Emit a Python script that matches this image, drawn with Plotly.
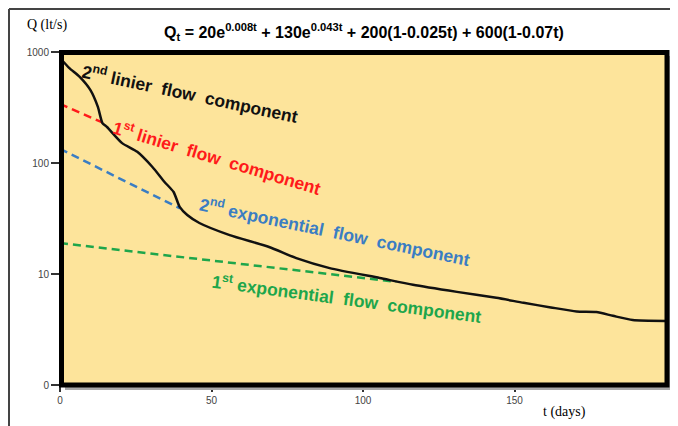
import plotly.graph_objects as go

# ---- data ----
t_total = [0, 3, 6.5, 10, 12.5, 14, 15.5, 20.5, 25.5, 30.5, 34.5, 37.5, 39.5, 42, 46, 56, 69, 78, 89,
           105.5, 116.5, 131, 144, 153, 162, 170.5, 177, 182.5, 189, 200]
q_total = [883, 720, 596, 455, 320, 229, 211, 151, 126, 92, 67.5, 54.8, 40.2, 34.0, 28.8, 22.4, 17.5, 13.9, 11.3,
           9.2, 8.0, 6.9, 6.1, 5.5, 5.0, 4.6, 4.55, 4.2, 3.85, 3.78]

t_lin1 = [0, 14]
q_lin1 = [340, 232]
t_exp2 = [0, 39.6]
q_exp2 = [134, 39]
t_exp1 = [0, 111]
q_exp1 = [19, 8.5]

y_tickvals = [1, 10, 100, 1000]
y_ticktext = ["0", "10", "100", "1000"]
x_tickvals = [0, 50, 100, 150]
x_ticktext = ["0", "50", "100", "150"]

# the page body adds an 8 px margin, so the figure is drawn at page offset (8, 8)
OFF = 8
W, H = 670, 418
L, R, T, B = 52, 12, 44, 41
PW, PH = W - L - R, H - T - B


def px(x):  # page pixel -> paper
    return (x - OFF - L) / PW


def py(y):
    return (H - B - (y - OFF)) / PH


fig = go.Figure()
fig.add_trace(go.Scatter(x=t_lin1, y=q_lin1, mode="lines",
                         line=dict(color="#FF1A1A", width=2.5, dash="8px,5px"), hoverinfo="skip"))
fig.add_trace(go.Scatter(x=t_exp2, y=q_exp2, mode="lines",
                         line=dict(color="#3A7DC3", width=2.5, dash="8px,5px"), hoverinfo="skip"))
fig.add_trace(go.Scatter(x=t_exp1, y=q_exp1, mode="lines",
                         line=dict(color="#1EA64B", width=2.5, dash="8px,5px"), hoverinfo="skip"))
fig.add_trace(go.Scatter(x=t_total, y=q_total, mode="lines", line_shape="spline",
                         line=dict(color="#111111", width=2.5, smoothing=0.6), hoverinfo="skip"))

tickfont = dict(family="Arial, Liberation Sans", size=10, color="#444444")
fig.update_layout(
    width=W, height=H,
    margin=dict(l=L, r=R, t=T, b=B, pad=0),
    paper_bgcolor="white",
    plot_bgcolor="rgb(253,228,155)",
    showlegend=False,
    xaxis=dict(range=[0, 200], tickvals=x_tickvals, ticktext=x_ticktext, ticks="outside",
               ticklen=6, tickwidth=1.5, tickcolor="#333333", showgrid=False, zeroline=False,
               showline=False, tickfont=tickfont),
    yaxis=dict(type="log", range=[0, 3], tickvals=y_tickvals, ticktext=y_ticktext, ticks="outside",
               ticklen=8, tickwidth=1.5, tickcolor="#333333", showgrid=False, zeroline=False,
               showline=False, tickfont=tickfont),
)

# shadow on the right and bottom of the frame
fig.add_shape(type="line", xref="paper", yref="paper", x0=px(670.5), x1=px(670.5), y0=py(56), y1=py(389),
              line=dict(color="#a8a8a8", width=3), layer="above")
fig.add_shape(type="line", xref="paper", yref="paper", x0=px(65), x1=px(672), y0=py(388.5), y1=py(388.5),
              line=dict(color="#a8a8a8", width=3), layer="above")
# plot frame
fig.add_shape(type="rect", xref="paper", yref="paper",
              x0=px(61.5), x1=px(667), y0=py(385), y1=py(52.5),
              line=dict(color="black", width=5), layer="above")

# outer frame lines
fig.add_shape(type="line", xref="paper", yref="paper", x0=px(9), x1=px(700), y0=py(9), y1=py(9),
              line=dict(color="#444444", width=2))
fig.add_shape(type="line", xref="paper", yref="paper", x0=px(9), x1=px(9), y0=py(9), y1=py(440),
              line=dict(color="#444444", width=2))

ann = []
ann.append(dict(text="<b>Q<sub>t</sub> = 20e<sup>0.008t</sup> + 130e<sup>0.043t</sup> + 200(1-0.025t) + 600(1-0.07t)</b>",
                x=px(364), y=py(32), xref="paper", yref="paper", showarrow=False,
                font=dict(family="Arial, Liberation Sans", size=16, color="black"), xanchor="center",
                yanchor="middle"))
ann.append(dict(text="Q (lt/s)", x=px(47), y=py(25), xref="paper", yref="paper", showarrow=False,
                font=dict(family="Liberation Serif, Times New Roman", size=14, color="black"),
                xanchor="center", yanchor="middle"))
ann.append(dict(text="t (days)", x=px(564), y=py(412), xref="paper", yref="paper", showarrow=False,
                font=dict(family="Liberation Serif, Times New Roman", size=14, color="black"),
                xanchor="center", yanchor="middle"))

labels = [
    ("2<sup>nd</sup> linier  flow  component", 190, 93, 12, "#111111"),
    ("1<sup>st</sup> linier  flow  component", 217, 157, 16.7, "#FF1A1A"),
    ("2<sup>nd</sup> exponential  flow  component", 335, 231, 11.7, "#3A7DC3"),
    ("1<sup>st</sup> exponential  flow  component", 347, 298, 7.5, "#1EA64B"),
]
for txt, cx, cy, ang, col in labels:
    ann.append(dict(text="<b>" + txt + "</b>", x=px(cx), y=py(cy), xref="paper", yref="paper",
                    showarrow=False, textangle=ang,
                    font=dict(family="Arial, Liberation Sans", size=17.5, color=col),
                    xanchor="center", yanchor="middle"))

fig.update_layout(annotations=ann)

fig.write_html("out.html")
